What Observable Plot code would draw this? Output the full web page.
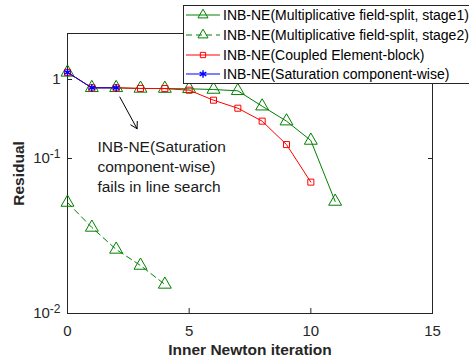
<!DOCTYPE html>
<html>
<head>
<meta charset="utf-8">
<script src="https://cdn.jsdelivr.net/npm/d3@7"></script>
<script src="https://cdn.jsdelivr.net/npm/@observablehq/plot@0.6"></script>
<style>
  body { margin: 0; background: #fff; }
  #wrap { position: relative; width: 469px; height: 360px; overflow: hidden; font-family: "Liberation Sans", Arial, sans-serif; }
  #legend { position: absolute; left: 183px; top: 5px; }
</style>
</head>
<body>
<div id="wrap"><div id="chart"></div><svg id="legend" width="290" height="80"></svg></div>
<script>
// ---- data ----
const seriesNames = [
  "INB-NE(Multiplicative field-split, stage1)",
  "INB-NE(Multiplicative field-split, stage2)",
  "INB-NE(Coupled Element-block)",
  "INB-NE(Saturation component-wise)"
];
const iterStage1 = [0, 1, 2, 3, 4, 5, 6, 7, 8, 9, 10, 11];
const resStage1  = [1.23, 0.785, 0.785, 0.77, 0.768, 0.762, 0.747, 0.719, 0.459, 0.297, 0.169, 0.0528];
const iterStage2 = [0, 1, 2, 3, 4];
const resStage2  = [0.052, 0.0359, 0.0259, 0.0204, 0.0154];
const iterCoupled = [0, 1, 2, 3, 4, 5, 6, 7, 8, 9, 10];
const resCoupled  = [1.23, 0.785, 0.785, 0.77, 0.768, 0.732, 0.547, 0.433, 0.297, 0.150, 0.0704];
const iterSat = [0, 1, 2];
const resSat  = [1.23, 0.785, 0.785];
const xTicks = [0, 5, 10, 15];
const yTicks = [0.01, 0.1, 1];
const yTickLabels = [["10", "-2"], ["10", "-1"], ["1", ""]];
const annotationText = "INB-NE(Saturation\ncomponent-wise)\nfails in line search";
const arrowFrom = {x: 2.15, y: 0.6};
const arrowTo = {x: 2.86, y: 0.238};
const textAt = {x: 1.23, y: 0.09};

const green = "#008000", red = "#ff0000", blue = "#0000ff";
const toRows = (xs, ys) => xs.map((x, i) => ({x, y: ys[i]}));
const s1 = toRows(iterStage1, resStage1);
const s2 = toRows(iterStage2, resStage2);
const ce = toRows(iterCoupled, resCoupled);
const sat = toRows(iterSat, resSat);

const chart = Plot.plot({
  width: 469,
  height: 360,
  marginLeft: 67,
  marginRight: 37,
  marginTop: 33,
  marginBottom: 47,
  style: {fontFamily: "'Liberation Sans', Arial, sans-serif", fontSize: "15px", color: "#262626", background: "#fff"},
  x: {domain: [0, 15]},
  y: {type: "log", domain: [0.01, 0.1, 1, 3.82], range: [313, 158, 79, 33]},
  marks: [
    Plot.frame({stroke: "#262626", strokeWidth: 1}),
    Plot.axisX({ticks: xTicks, tickSize: -5, tickPadding: 17, fontSize: 15, tickFormat: d => String(d),
      label: "Inner Newton iteration", labelAnchor: "center", labelArrow: "none", labelOffset: 41}),
    Plot.axisX({anchor: "top", ticks: xTicks, tickSize: -5, tickFormat: () => "", label: null}),
    Plot.axisY({ticks: yTicks, tickSize: -5, tickPadding: 12, fontSize: 15,
      tickFormat: d => yTickLabels[yTicks.indexOf(d)].join("|"),
      label: "Residual", labelAnchor: "center", labelArrow: "none", labelOffset: 55}),
    Plot.axisY({anchor: "right", ticks: yTicks, tickSize: -5, tickFormat: () => "", label: null}),
    // stage1
    Plot.line(s1, {x: "x", y: "y", stroke: green, strokeWidth: 1}),
    Plot.dot(s1, {x: "x", y: "y", symbol: "triangle", r: 4.8, stroke: green, fill: "none", strokeWidth: 1}),
    // stage2
    Plot.line(s2, {x: "x", y: "y", stroke: green, strokeWidth: 1, strokeDasharray: "6,4"}),
    Plot.dot(s2, {x: "x", y: "y", symbol: "triangle", r: 4.8, stroke: green, fill: "none", strokeWidth: 1}),
    // coupled
    Plot.line(ce, {x: "x", y: "y", stroke: red, strokeWidth: 1}),
    Plot.dot(ce, {x: "x", y: "y", symbol: "square", r: 3.4, stroke: red, fill: "none", strokeWidth: 1}),
    // saturation
    Plot.line(sat, {x: "x", y: "y", stroke: blue, strokeWidth: 1}),
    Plot.dot(sat, {x: "x", y: "y", symbol: "asterisk", r: 3.6, stroke: blue, fill: "none", strokeWidth: 1.4}),
    // annotation
    Plot.arrow([0], {x1: () => arrowFrom.x, y1: () => arrowFrom.y, x2: () => arrowTo.x, y2: () => arrowTo.y,
      stroke: "#000", strokeWidth: 1, headLength: 11}),
    Plot.text([annotationText], {x: () => textAt.x, y: () => textAt.y, text: d => d, textAnchor: "start",
      lineAnchor: "middle", lineHeight: 1.3, fontSize: 15.5, fill: "#1a1a1a"})
  ]
});
document.getElementById("chart").appendChild(chart);

// superscript tick labels and bold axis titles
d3.select(chart).selectAll('g[aria-label="y-axis tick label"] text').each(function() {
  const t = d3.select(this);
  const parts = t.text().split("|");
  t.text(null);
  t.append("tspan").text(parts[0]);
  if (parts[1]) t.append("tspan").attr("dy", "-0.45em").attr("font-size", "12px").text(parts[1]);
});
d3.select(chart).selectAll('g[aria-label="x-axis label"] text, g[aria-label="y-axis label"] text')
  .attr("font-weight", "bold").attr("font-size", "15.5px").attr("fill", "#262626");

// legend
const leg = d3.select("#legend");
leg.append("rect").attr("x", 0.5).attr("y", 0.5).attr("width", 300).attr("height", 78)
  .attr("fill", "#fff").attr("stroke", "#262626");
const legStyles = [
  {color: green, dash: null, sym: d3.symbolTriangle2, r: 4.8},
  {color: green, dash: "6,4", sym: d3.symbolTriangle2, r: 4.8},
  {color: red, dash: null, sym: d3.symbolSquare2, r: 3.4},
  {color: blue, dash: null, sym: d3.symbolAsterisk, r: 3.6}
];
const rowY = [10, 30, 50, 69];
seriesNames.forEach((name, i) => {
  const s = legStyles[i];
  const g = leg.append("g").attr("transform", `translate(0,${rowY[i]})`);
  g.append("line").attr("x1", 3).attr("x2", 37).attr("stroke", s.color).attr("stroke-width", 1)
    .attr("stroke-dasharray", s.dash);
  g.append("path").attr("transform", "translate(20,0)")
    .attr("d", d3.symbol(s.sym, Math.PI * s.r * s.r)())
    .attr("fill", "none").attr("stroke", s.color).attr("stroke-width", i === 3 ? 1.4 : 1);
  g.append("text").attr("x", 40).attr("dy", "0.35em").attr("font-size", "14px")
    .attr("fill", "#000").text(name);
});
</script>
</body>
</html>
